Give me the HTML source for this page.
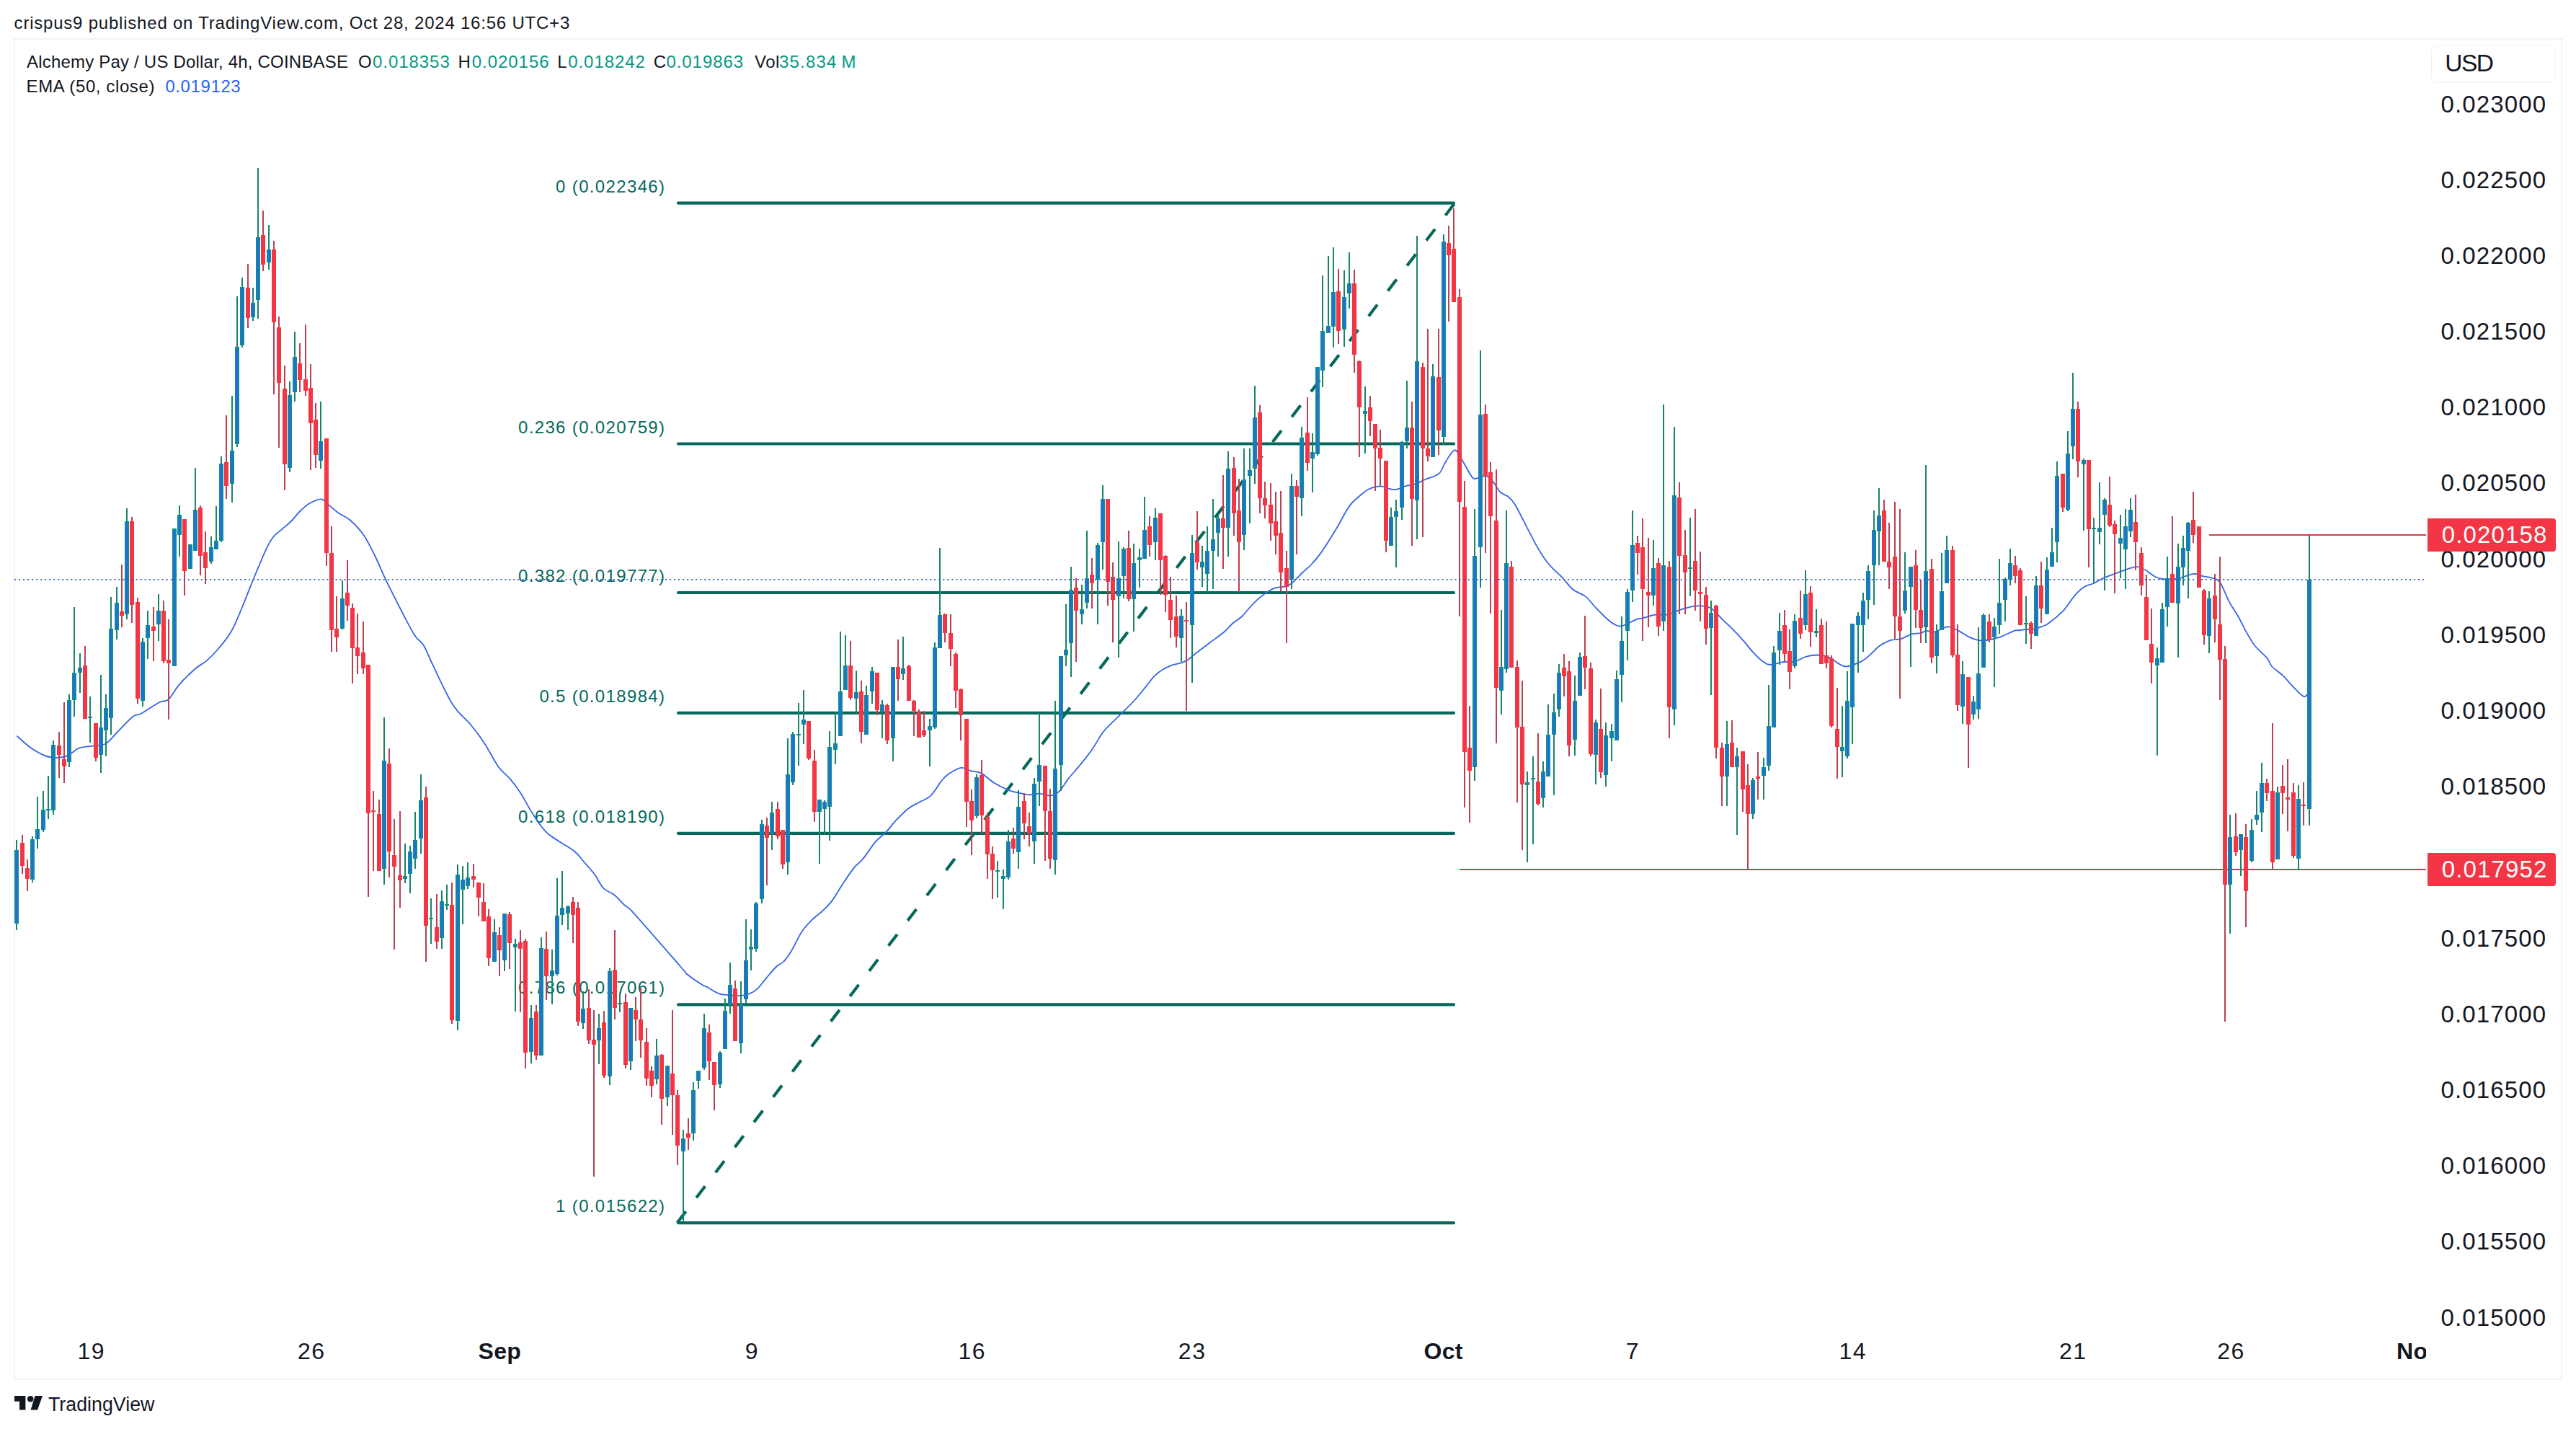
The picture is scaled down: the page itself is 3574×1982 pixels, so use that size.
<!DOCTYPE html>
<html><head><meta charset="utf-8"><title>chart</title>
<style>
html,body{margin:0;padding:0;background:#fff;}
body{width:3574px;height:1982px;position:relative;overflow:hidden;font-family:"Liberation Sans",sans-serif;color:#131722;}
.abs{position:absolute;white-space:nowrap;}
#hdr{left:19.6px;top:15.7px;font-size:24px;line-height:32px;letter-spacing:0.785px;}
#frame{left:19px;top:53px;width:3532px;height:1857px;border:2px solid #f1f2f5;box-sizing:content-box;}
#lg1{left:37px;top:70.2px;font-size:24px;line-height:32px;letter-spacing:0.5px;}
#lg2{left:36.6px;top:104.2px;font-size:24px;line-height:32px;letter-spacing:0.5px;}
.k{position:absolute;top:0;} .g{color:#089981} .k.g{letter-spacing:0.95px} .bl{color:#2962ff}
.pl{position:absolute;left:3383.3px;width:150px;text-align:right;font-size:33px;line-height:40px;letter-spacing:1.15px;white-space:nowrap;}
.tl{position:absolute;top:1854px;width:200px;text-align:center;font-size:32px;line-height:40px;letter-spacing:1.5px;text-indent:1.5px;white-space:nowrap;}
.tl.b{font-weight:bold;letter-spacing:0.3px;text-indent:0;}
#taxis{position:absolute;left:21px;top:0;width:3345px;height:1910px;overflow:hidden;}
.fl{position:absolute;right:2650.6px;font-size:24px;line-height:30px;color:#06685a;letter-spacing:1.35px;white-space:nowrap;}
#usd{left:3373px;top:62px;width:171px;height:50.5px;border:1.5px solid #f1f2f5;border-radius:8px;box-sizing:content-box;}
#usdt{left:3392.3px;top:65.5px;font-size:33.5px;line-height:44px;letter-spacing:-1.6px;}
.tag{position:absolute;left:3368px;width:178px;height:46px;background:#f23645;border-radius:0 4px 4px 0;color:#fff;font-size:33px;line-height:46px;letter-spacing:1.15px;}
.tag span{position:absolute;right:11.5px;}
#tv{left:67px;top:1931.6px;font-size:26.8px;line-height:32px;letter-spacing:0px;}
svg{position:absolute;left:0;top:0;}
</style></head><body>
<div id="hdr" class="abs">crispus9 published on TradingView.com, Oct 28, 2024 16:56 UTC+3</div>
<div id="frame" class="abs"></div>
<svg width="3574" height="1982" viewBox="0 0 3574 1982">
<defs><clipPath id="cp"><rect x="20" y="55" width="3346" height="1800"/></clipPath></defs>
<g clip-path="url(#cp)">
<g stroke="#06685a" stroke-width="4.2" stroke-linecap="round"><line x1="941" x2="2017" y1="281.6" y2="281.6"/><line x1="941" x2="2017" y1="615.5" y2="615.5"/><line x1="941" x2="2017" y1="822.0" y2="822.0"/><line x1="941" x2="2017" y1="988.9" y2="988.9"/><line x1="941" x2="2017" y1="1155.9" y2="1155.9"/><line x1="941" x2="2017" y1="1393.4" y2="1393.4"/><line x1="941" x2="2017" y1="1696.1" y2="1696.1"/>
<line x1="939.5" y1="1696.1" x2="2018.5" y2="281.6" stroke-dasharray="20 23.94" stroke-linecap="butt"/></g>
<line x1="2025" x2="3368" y1="1206.0" y2="1206.0" stroke="#cf3e51" stroke-width="2"/>
<line x1="3065" x2="3368" y1="741.9" y2="741.9" stroke="#cf3e51" stroke-width="2"/>
</g>
<g fill="#131722"><path d="M20 1936h15.4v19.4H27v-11.6H20z"/><circle cx="42.2" cy="1940.2" r="4.3"/><path d="M48.6 1936H59l-7 19.4H42.6z"/></g>
</svg>
<div class="fl" style="top:243.6px">0 (0.022346)</div><div class="fl" style="top:577.5px">0.236 (0.020759)</div><div class="fl" style="top:784.0px">0.382 (0.019777)</div><div class="fl" style="top:950.9px">0.5 (0.018984)</div><div class="fl" style="top:1117.9px">0.618 (0.018190)</div><div class="fl" style="top:1355.4px">0.786 (0.017061)</div><div class="fl" style="top:1658.1px">1 (0.015622)</div>
<svg width="3574" height="1982" viewBox="0 0 3574 1982">
<g clip-path="url(#cp)">
<path d="M23.4 1020.6C26.3 1023.2 35.5 1031.8 41.0 1036.0C46.5 1040.2 51.9 1043.2 56.6 1045.5C61.3 1047.8 63.8 1049.2 69.0 1050.0C74.2 1050.8 82.4 1051.0 87.6 1050.0C92.8 1049.0 96.4 1046.0 100.0 1044.0C103.6 1042.0 104.7 1039.3 109.4 1037.7C114.1 1036.1 121.8 1035.6 128.0 1034.6C134.2 1033.6 140.9 1034.6 146.6 1031.5C152.3 1028.4 156.0 1022.2 162.2 1016.0C168.4 1009.8 178.2 998.6 183.9 994.2C189.6 989.8 190.1 992.9 196.3 989.5C202.5 986.1 215.0 977.2 221.2 974.0C227.4 970.8 228.9 974.4 233.6 970.3C238.2 966.2 242.9 956.3 249.1 949.2C255.3 942.1 264.7 932.9 270.9 927.5C277.1 922.1 281.2 921.0 286.4 916.6C291.6 912.2 296.2 907.7 301.9 901.0C307.6 894.3 314.9 886.0 320.6 876.2C326.3 866.4 330.9 854.2 336.1 842.0C341.3 829.8 345.9 816.9 351.6 803.2C357.3 789.5 365.5 769.6 370.2 759.8C374.9 750.0 376.0 748.6 379.6 744.2C383.2 739.8 387.9 737.0 392.0 733.4C396.1 729.8 400.3 726.6 404.4 722.5C408.5 718.4 412.6 712.5 416.8 708.5C421.0 704.5 424.5 701.0 429.3 698.3C434.1 695.6 441.1 691.9 445.7 692.4C450.3 692.9 453.2 698.2 457.2 701.4C461.2 704.6 464.9 708.3 469.6 711.6C474.3 714.9 479.5 716.1 485.2 721.0C490.9 725.9 498.1 733.1 503.8 741.1C509.5 749.1 514.1 758.6 519.3 769.0C524.5 779.4 529.1 791.3 534.8 803.2C540.5 815.1 546.8 827.5 553.5 840.5C560.2 853.5 569.5 871.9 575.2 880.9C580.9 889.9 583.5 888.1 587.6 894.8C591.7 901.5 593.3 907.5 600.0 921.2C606.7 934.9 619.2 963.1 628.0 977.1C636.8 991.1 645.6 996.2 652.9 1005.0C660.1 1013.8 665.0 1020.2 671.5 1030.0C678.0 1039.8 685.7 1055.5 691.7 1063.8C697.7 1072.1 702.2 1073.9 707.3 1079.9C712.4 1085.9 716.9 1091.5 722.3 1099.9C727.7 1108.2 733.5 1120.5 739.8 1129.8C746.1 1139.2 750.6 1147.7 760.0 1156.1C769.4 1164.4 787.8 1173.5 796.1 1180.0C804.4 1186.5 805.0 1189.6 809.8 1195.0C814.6 1200.4 820.2 1206.3 824.8 1212.5C829.4 1218.6 832.7 1227.2 837.3 1232.0C841.9 1236.7 847.3 1237.2 852.3 1241.2C857.3 1245.2 862.6 1251.8 867.3 1256.2C871.9 1260.6 867.3 1253.5 880.0 1267.4C892.7 1281.4 931.2 1325.8 943.6 1340.0C956.1 1354.2 949.7 1348.1 954.9 1352.5C960.1 1356.9 970.7 1363.6 974.9 1366.2C979.1 1368.9 976.2 1366.5 980.0 1368.5C983.8 1370.5 992.2 1376.3 997.4 1378.2C1002.6 1380.2 1006.4 1379.6 1011.2 1380.1C1015.9 1380.6 1021.4 1381.4 1026.1 1381.1C1030.9 1380.8 1035.7 1379.9 1039.9 1378.2C1044.1 1376.6 1047.2 1374.8 1051.1 1371.1C1055.1 1367.4 1059.2 1361.2 1063.6 1356.1C1068.0 1351.0 1073.4 1344.3 1077.4 1340.5C1081.3 1336.8 1084.1 1337.0 1087.4 1333.5C1090.8 1330.1 1093.2 1326.7 1097.4 1319.8C1101.6 1312.9 1107.8 1299.4 1112.4 1292.3C1117.0 1285.2 1119.9 1282.3 1124.9 1277.3C1129.9 1272.3 1137.4 1267.1 1142.4 1262.3C1147.4 1257.6 1150.3 1254.9 1154.9 1248.6C1159.4 1242.4 1164.9 1232.4 1169.9 1224.9C1174.9 1217.4 1180.3 1209.3 1184.8 1203.6C1189.4 1198.0 1192.3 1197.2 1197.3 1191.2C1202.3 1185.1 1209.4 1173.7 1214.8 1167.4C1220.2 1161.2 1225.2 1158.5 1229.8 1153.7C1234.4 1148.9 1237.3 1144.0 1242.3 1138.7C1247.3 1133.4 1254.4 1126.0 1259.8 1121.7C1265.2 1117.4 1269.8 1115.8 1274.8 1113.0C1279.8 1110.2 1285.6 1108.3 1289.8 1104.9C1294.0 1101.4 1297.5 1095.7 1300.0 1092.4C1302.5 1089.1 1302.1 1087.9 1304.8 1084.8C1307.5 1081.7 1311.3 1076.9 1316.1 1073.6C1320.9 1070.3 1328.4 1065.6 1333.6 1064.9C1338.8 1064.2 1342.8 1068.1 1347.4 1069.4C1352.0 1070.6 1355.8 1069.6 1361.2 1072.4C1366.7 1075.2 1373.5 1082.2 1379.9 1086.2C1386.4 1090.1 1394.5 1093.9 1399.9 1096.1C1405.3 1098.4 1407.8 1098.4 1412.4 1099.4C1417.0 1100.4 1422.4 1102.2 1427.4 1102.4C1432.4 1102.6 1437.4 1100.4 1442.4 1100.6C1447.4 1100.9 1452.8 1104.2 1457.4 1103.6C1462.0 1103.1 1465.7 1101.4 1469.9 1097.4C1474.0 1093.4 1477.8 1085.7 1482.4 1079.9C1486.9 1074.1 1491.9 1069.1 1497.4 1062.4C1502.8 1055.8 1509.4 1047.6 1514.8 1039.9C1520.3 1032.2 1525.4 1022.2 1529.8 1016.2C1534.2 1010.2 1537.1 1008.2 1541.3 1003.8C1545.5 999.4 1549.9 995.5 1555.3 990.1C1560.7 984.7 1568.2 977.7 1573.9 971.5C1579.6 965.3 1584.7 958.6 1589.4 952.9C1594.1 947.2 1597.8 941.4 1601.9 937.3C1606.1 933.1 1610.2 930.5 1614.3 928.0C1618.4 925.5 1622.6 923.9 1626.7 922.4C1630.8 920.9 1635.5 920.5 1639.1 919.3C1642.7 918.1 1644.8 917.4 1648.4 915.0C1652.0 912.6 1655.7 908.8 1660.9 904.7C1666.1 900.7 1673.3 895.4 1679.5 890.7C1685.7 886.1 1692.9 881.2 1698.1 876.8C1703.3 872.4 1706.4 867.9 1710.6 864.3C1714.8 860.7 1718.9 858.9 1723.0 855.0C1727.1 851.1 1731.8 844.9 1735.4 841.0C1739.0 837.1 1741.1 834.9 1744.7 831.7C1748.3 828.5 1752.9 824.5 1757.1 821.8C1761.2 819.1 1764.9 816.8 1769.6 815.3C1774.3 813.8 1781.0 814.5 1785.1 813.1C1789.2 811.7 1790.8 810.0 1794.4 806.9C1798.0 803.8 1802.7 798.5 1806.8 794.5C1810.9 790.5 1815.1 787.4 1819.3 783.0C1823.5 778.6 1827.6 773.7 1831.7 768.1C1835.8 762.5 1840.0 755.9 1844.1 749.4C1848.2 742.9 1852.9 735.5 1856.5 729.3C1860.1 723.1 1862.7 717.4 1865.8 712.2C1868.9 707.0 1871.6 702.5 1875.2 698.2C1878.8 694.0 1883.5 690.1 1887.6 686.7C1891.7 683.3 1895.3 680.1 1900.0 678.0C1904.7 675.9 1910.8 674.3 1915.5 674.3C1920.2 674.3 1924.4 677.2 1928.0 678.0C1931.6 678.8 1933.7 679.5 1937.3 678.9C1940.9 678.3 1945.6 675.5 1949.7 674.3C1953.8 673.1 1957.4 673.3 1962.1 671.8C1966.8 670.2 1971.9 667.5 1977.6 665.0C1983.3 662.5 1991.6 660.9 1996.3 656.9C2001.0 652.9 2002.0 646.1 2005.6 640.7C2009.2 635.3 2014.4 625.1 2018.0 624.3C2021.6 623.5 2023.7 630.5 2027.3 636.1C2030.9 641.7 2036.7 653.1 2039.8 657.8C2042.9 662.4 2042.4 663.6 2046.0 664.0C2049.6 664.4 2057.4 659.5 2061.5 660.0C2065.6 660.5 2067.4 663.3 2070.8 667.1C2074.2 670.9 2078.1 679.1 2081.7 682.7C2085.3 686.3 2089.1 686.1 2092.5 688.9C2095.9 691.7 2097.8 693.0 2101.9 699.7C2106.1 706.4 2112.2 719.4 2117.4 729.3C2122.6 739.1 2127.7 750.0 2132.9 758.8C2138.1 767.6 2142.7 775.0 2148.4 782.0C2154.1 789.0 2161.4 794.7 2167.1 800.7C2172.8 806.7 2177.2 813.4 2182.6 817.8C2188.0 822.2 2194.7 823.2 2199.7 827.1C2204.7 831.0 2207.3 835.8 2212.3 841.0C2217.3 846.2 2224.8 854.1 2229.8 858.5C2234.8 862.9 2238.9 865.6 2242.3 867.2C2245.6 868.9 2247.0 868.8 2249.9 868.3C2252.8 867.8 2256.3 865.7 2259.9 864.2C2263.4 862.6 2267.8 859.9 2271.1 858.8C2274.5 857.6 2276.0 858.2 2280.0 857.2C2284.0 856.3 2289.1 853.7 2295.0 852.8C2300.8 852.0 2309.1 853.5 2314.9 852.3C2320.8 851.2 2324.9 847.8 2329.9 846.1C2334.9 844.3 2340.3 842.8 2344.9 841.8C2349.5 840.9 2352.8 840.2 2357.4 840.3C2362.0 840.5 2368.4 841.3 2372.4 842.8C2376.4 844.4 2378.2 847.1 2381.1 849.8C2384.1 852.6 2385.9 855.4 2389.9 859.3C2393.8 863.3 2399.9 868.5 2404.9 873.6C2409.9 878.7 2415.3 884.6 2419.9 889.8C2424.4 895.0 2427.8 900.0 2432.4 904.8C2436.9 909.6 2443.2 915.7 2447.3 918.5C2451.5 921.4 2452.8 921.9 2457.3 921.8C2461.9 921.7 2469.4 918.7 2474.8 918.0C2480.2 917.4 2484.8 919.0 2489.8 917.8C2494.8 916.6 2499.8 912.6 2504.8 911.0C2509.8 909.5 2515.0 908.7 2519.8 908.5C2524.6 908.4 2529.5 909.0 2533.6 910.2C2537.8 911.5 2542.0 914.4 2544.8 916.0C2547.5 917.7 2547.1 918.5 2550.0 919.9C2552.8 921.3 2556.5 924.9 2561.9 924.4C2567.3 924.0 2576.9 920.1 2582.5 917.4C2588.0 914.6 2590.8 911.4 2594.9 907.9C2599.1 904.3 2602.9 899.4 2607.4 896.1C2612.0 892.8 2617.4 889.8 2622.4 888.1C2627.4 886.5 2632.4 887.6 2637.4 886.1C2642.4 884.7 2647.8 880.7 2652.4 879.4C2657.0 878.1 2661.6 878.9 2664.9 878.1C2668.2 877.4 2669.1 875.2 2672.4 874.9C2675.7 874.6 2679.9 877.1 2684.9 876.1C2689.9 875.2 2697.0 869.6 2702.4 869.4C2707.8 869.2 2712.4 872.5 2717.4 874.9C2722.3 877.3 2727.6 881.4 2732.3 883.6C2737.1 885.8 2741.5 887.5 2746.1 888.1C2750.7 888.8 2755.0 888.1 2759.8 887.4C2764.6 886.6 2769.0 885.7 2774.8 883.6C2780.6 881.6 2790.6 876.4 2794.8 874.9C2799.0 873.4 2797.5 874.7 2800.0 874.4C2802.5 874.1 2807.3 873.4 2809.8 873.2C2812.3 872.9 2812.5 873.1 2815.0 872.9C2817.5 872.8 2822.3 872.9 2824.8 872.4C2827.3 871.9 2827.2 871.1 2830.0 869.9C2832.7 868.7 2835.8 869.1 2841.2 865.3C2846.7 861.5 2856.4 853.6 2862.5 847.2C2868.5 840.9 2872.7 832.8 2877.4 827.3C2882.2 821.8 2886.6 817.3 2891.2 814.3C2895.8 811.2 2900.1 811.2 2904.9 809.0C2909.7 806.8 2914.9 803.3 2919.9 801.0C2924.9 798.8 2929.9 797.4 2934.9 795.5C2939.9 793.7 2945.7 791.2 2949.9 789.8C2954.1 788.3 2957.0 787.3 2959.9 786.8C2962.8 786.2 2964.5 785.8 2967.4 786.5C2970.3 787.2 2973.6 788.8 2977.4 791.0C2981.1 793.2 2986.1 797.8 2989.9 799.8C2993.6 801.8 2996.1 802.4 2999.9 803.0C3003.6 803.6 3008.2 803.7 3012.3 803.5C3016.5 803.3 3020.7 802.8 3024.8 801.8C3029.0 800.7 3033.8 798.2 3037.3 797.3C3040.9 796.3 3042.7 795.7 3046.1 796.0C3049.4 796.4 3053.4 798.3 3057.3 799.3C3061.3 800.2 3066.0 800.3 3069.8 801.8C3073.6 803.2 3076.4 802.4 3080.3 807.9C3084.1 813.4 3088.8 827.2 3092.9 834.9C3097.0 842.6 3100.9 847.2 3104.9 854.2C3108.9 861.2 3112.9 870.1 3116.9 877.1C3120.9 884.1 3124.2 890.3 3129.0 896.3C3133.8 902.3 3142.0 908.6 3145.8 913.2C3149.6 917.8 3148.2 920.0 3151.8 924.0C3155.4 928.0 3162.5 932.4 3167.5 937.2C3172.5 942.0 3177.1 948.1 3181.9 952.9C3186.7 957.7 3192.9 964.9 3196.4 966.1C3199.9 967.3 3201.9 961.1 3203.0 960.1" fill="none" stroke="#3565e8" stroke-width="1.8" stroke-linejoin="round"/>
<g shape-rendering="crispEdges">
<path fill="#19846c" d="M22 1165h2V1290h-2zM44 1160h2V1224h-2zM51 1105h2V1177h-2zM59 1097h2V1154h-2zM66 1076h2V1136h-2zM73 1027h2V1130h-2zM95 963h2V1064h-2zM102 842h2V994h-2zM110 906h2V961h-2zM124 966h2V1030h-2zM139 936h2V1072h-2zM146 963h2V1049h-2zM153 828h2V1019h-2zM161 814h2V887h-2zM175 705h2V859h-2zM197 885h2V980h-2zM204 847h2V914h-2zM219 824h2V889h-2zM241 733h2V924h-2zM248 701h2V772h-2zM263 755h2V789h-2zM270 649h2V764h-2zM292 744h2V782h-2zM299 702h2V762h-2zM306 633h2V752h-2zM321 549h2V697h-2zM328 411h2V620h-2zM335 385h2V482h-2zM350 399h2V445h-2zM357 233h2V442h-2zM372 312h2V374h-2zM401 529h2V655h-2zM408 460h2V557h-2zM444 557h2V650h-2zM474 805h2V873h-2zM532 995h2V1227h-2zM561 1170h2V1225h-2zM568 1173h2V1239h-2zM575 1126h2V1205h-2zM583 1074h2V1184h-2zM597 1246h2V1309h-2zM612 1235h2V1316h-2zM619 1227h2V1262h-2zM634 1199h2V1429h-2zM641 1201h2V1282h-2zM648 1196h2V1233h-2zM685 1275h2V1334h-2zM699 1267h2V1347h-2zM714 1302h2V1403h-2zM736 1394h2V1475h-2zM750 1300h2V1464h-2zM765 1317h2V1393h-2zM772 1218h2V1353h-2zM779 1208h2V1283h-2zM787 1256h2V1290h-2zM808 1375h2V1427h-2zM830 1406h2V1476h-2zM845 1343h2V1505h-2zM859 1377h2V1404h-2zM874 1398h2V1484h-2zM910 1441h2V1504h-2zM925 1478h2V1534h-2zM947 1567h2V1695h-2zM961 1501h2V1582h-2zM968 1485h2V1510h-2zM976 1406h2V1484h-2zM998 1458h2V1509h-2zM1005 1385h2V1455h-2zM1012 1335h2V1406h-2zM1027 1361h2V1461h-2zM1034 1275h2V1391h-2zM1041 1289h2V1346h-2zM1048 1251h2V1320h-2zM1056 1137h2V1253h-2zM1070 1112h2V1179h-2zM1092 1024h2V1213h-2zM1099 1015h2V1089h-2zM1107 975h2V1062h-2zM1114 957h2V1032h-2zM1136 1109h2V1198h-2zM1143 1110h2V1157h-2zM1150 1014h2V1166h-2zM1158 987h2V1060h-2zM1165 876h2V1021h-2zM1172 881h2V957h-2zM1187 930h2V990h-2zM1201 951h2V1019h-2zM1209 925h2V976h-2zM1223 971h2V1024h-2zM1238 925h2V1056h-2zM1252 883h2V943h-2zM1289 997h2V1063h-2zM1296 891h2V1011h-2zM1303 760h2V899h-2zM1354 1074h2V1135h-2zM1383 1194h2V1245h-2zM1391 1206h2V1261h-2zM1398 1151h2V1220h-2zM1412 1096h2V1205h-2zM1434 1079h2V1198h-2zM1441 989h2V1118h-2zM1463 972h2V1213h-2zM1471 910h2V1097h-2zM1478 838h2V924h-2zM1485 786h2V939h-2zM1500 811h2V866h-2zM1507 736h2V844h-2zM1522 753h2V866h-2zM1529 673h2V790h-2zM1551 751h2V912h-2zM1558 759h2V830h-2zM1572 754h2V876h-2zM1580 761h2V815h-2zM1587 689h2V775h-2zM1602 705h2V777h-2zM1638 845h2V918h-2zM1653 742h2V947h-2zM1667 757h2V814h-2zM1674 730h2V822h-2zM1682 692h2V817h-2zM1689 714h2V772h-2zM1703 626h2V772h-2zM1725 622h2V763h-2zM1733 622h2V726h-2zM1740 535h2V671h-2zM1791 657h2V817h-2zM1805 592h2V716h-2zM1820 601h2V683h-2zM1827 509h2V632h-2zM1834 382h2V537h-2zM1842 355h2V462h-2zM1849 343h2V482h-2zM1864 375h2V481h-2zM1871 350h2V428h-2zM1893 536h2V629h-2zM1929 704h2V757h-2zM1936 693h2V787h-2zM1944 612h2V721h-2zM1951 528h2V622h-2zM1965 327h2V748h-2zM1987 505h2V634h-2zM2002 325h2V617h-2zM2045 706h2V1083h-2zM2053 486h2V815h-2zM2082 846h2V991h-2zM2089 708h2V933h-2zM2118 1070h2V1196h-2zM2126 1049h2V1171h-2zM2140 1056h2V1120h-2zM2147 977h2V1077h-2zM2155 962h2V1103h-2zM2162 921h2V994h-2zM2184 937h2V1048h-2zM2191 905h2V965h-2zM2213 998h2V1088h-2zM2227 1002h2V1091h-2zM2235 1004h2V1056h-2zM2242 930h2V1027h-2zM2249 855h2V974h-2zM2257 817h2V916h-2zM2264 708h2V835h-2zM2293 749h2V840h-2zM2307 561h2V875h-2zM2322 592h2V1006h-2zM2344 718h2V827h-2zM2373 833h2V964h-2zM2395 1000h2V1118h-2zM2409 1037h2V1158h-2zM2431 1079h2V1136h-2zM2446 1051h2V1109h-2zM2453 950h2V1069h-2zM2460 896h2V1009h-2zM2468 850h2V922h-2zM2489 852h2V927h-2zM2504 791h2V874h-2zM2519 845h2V884h-2zM2555 979h2V1078h-2zM2562 931h2V1052h-2zM2569 865h2V1032h-2zM2577 849h2V933h-2zM2584 822h2V904h-2zM2591 784h2V859h-2zM2599 708h2V839h-2zM2606 677h2V784h-2zM2642 766h2V851h-2zM2650 786h2V925h-2zM2671 645h2V892h-2zM2686 866h2V934h-2zM2693 767h2V874h-2zM2700 743h2V809h-2zM2722 917h2V1004h-2zM2737 965h2V998h-2zM2744 870h2V997h-2zM2751 851h2V926h-2zM2766 857h2V953h-2zM2773 775h2V879h-2zM2781 801h2V862h-2zM2788 761h2V812h-2zM2810 827h2V893h-2zM2824 799h2V882h-2zM2839 773h2V852h-2zM2846 732h2V786h-2zM2853 640h2V780h-2zM2868 598h2V709h-2zM2875 517h2V637h-2zM2890 636h2V736h-2zM2904 718h2V810h-2zM2912 669h2V755h-2zM2919 691h2V819h-2zM2941 714h2V802h-2zM2948 706h2V817h-2zM2955 691h2V745h-2zM2992 898h2V1048h-2zM2999 836h2V919h-2zM3006 772h2V869h-2zM3021 754h2V912h-2zM3028 743h2V812h-2zM3035 724h2V830h-2zM3064 820h2V906h-2zM3093 1130h2V1295h-2zM3108 1157h2V1215h-2zM3123 1136h2V1196h-2zM3130 1097h2V1144h-2zM3137 1058h2V1154h-2zM3159 1091h2V1192h-2zM3188 1089h2V1207h-2zM3203 742h2V1145h-2z"/><path fill="#bb4152" d="M30 1158h2V1212h-2zM37 1192h2V1236h-2zM81 1015h2V1079h-2zM88 974h2V1086h-2zM117 896h2V997h-2zM132 1003h2V1056h-2zM168 783h2V870h-2zM182 717h2V864h-2zM190 829h2V976h-2zM212 842h2V917h-2zM226 833h2V920h-2zM233 859h2V998h-2zM255 720h2V826h-2zM277 701h2V798h-2zM284 737h2V810h-2zM313 576h2V692h-2zM343 366h2V455h-2zM364 292h2V376h-2zM379 334h2V547h-2zM386 439h2V621h-2zM394 507h2V680h-2zM415 476h2V544h-2zM423 450h2V549h-2zM430 505h2V652h-2zM437 559h2V649h-2zM452 608h2V785h-2zM459 730h2V904h-2zM466 827h2V904h-2zM481 777h2V861h-2zM488 837h2V948h-2zM495 851h2V935h-2zM503 862h2V935h-2zM510 922h2V1244h-2zM517 1097h2V1208h-2zM525 1109h2V1208h-2zM539 1038h2V1217h-2zM546 1136h2V1317h-2zM554 1125h2V1259h-2zM590 1091h2V1334h-2zM605 1240h2V1316h-2zM626 1224h2V1420h-2zM656 1198h2V1231h-2zM663 1224h2V1271h-2zM670 1225h2V1278h-2zM677 1261h2V1340h-2zM692 1286h2V1354h-2zM706 1265h2V1344h-2zM721 1290h2V1404h-2zM728 1302h2V1482h-2zM743 1394h2V1470h-2zM757 1292h2V1387h-2zM794 1244h2V1308h-2zM801 1251h2V1423h-2zM816 1372h2V1448h-2zM823 1401h2V1632h-2zM837 1402h2V1495h-2zM852 1290h2V1414h-2zM867 1378h2V1482h-2zM881 1383h2V1444h-2zM888 1370h2V1467h-2zM896 1426h2V1506h-2zM903 1479h2V1522h-2zM917 1462h2V1560h-2zM932 1401h2V1574h-2zM939 1512h2V1616h-2zM954 1551h2V1595h-2zM983 1421h2V1498h-2zM990 1473h2V1540h-2zM1019 1360h2V1444h-2zM1063 1134h2V1228h-2zM1078 1112h2V1164h-2zM1085 1151h2V1205h-2zM1121 1000h2V1054h-2zM1129 1040h2V1140h-2zM1179 889h2V971h-2zM1194 944h2V1031h-2zM1216 933h2V992h-2zM1230 976h2V1032h-2zM1245 887h2V972h-2zM1260 922h2V972h-2zM1267 971h2V1021h-2zM1274 984h2V1023h-2zM1281 986h2V1022h-2zM1310 851h2V891h-2zM1318 852h2V924h-2zM1325 905h2V982h-2zM1332 955h2V1027h-2zM1340 997h2V1147h-2zM1347 1095h2V1186h-2zM1361 1054h2V1156h-2zM1369 1127h2V1219h-2zM1376 1174h2V1247h-2zM1405 1148h2V1184h-2zM1420 1100h2V1164h-2zM1427 1127h2V1174h-2zM1449 1062h2V1194h-2zM1456 1094h2V1205h-2zM1492 802h2V918h-2zM1514 774h2V844h-2zM1536 692h2V840h-2zM1543 780h2V891h-2zM1565 736h2V834h-2zM1594 716h2V772h-2zM1609 712h2V825h-2zM1616 770h2V849h-2zM1623 800h2V885h-2zM1631 826h2V898h-2zM1645 835h2V986h-2zM1660 709h2V790h-2zM1696 659h2V789h-2zM1711 634h2V743h-2zM1718 664h2V821h-2zM1747 562h2V712h-2zM1754 668h2V719h-2zM1762 670h2V750h-2zM1769 682h2V769h-2zM1776 681h2V820h-2zM1784 764h2V892h-2zM1798 666h2V769h-2zM1813 551h2V653h-2zM1856 373h2V477h-2zM1878 374h2V517h-2zM1885 500h2V634h-2zM1900 549h2V605h-2zM1907 588h2V681h-2zM1914 596h2V674h-2zM1922 639h2V766h-2zM1958 557h2V757h-2zM1973 503h2V745h-2zM1980 456h2V640h-2zM1995 456h2V631h-2zM2009 313h2V446h-2zM2016 289h2V419h-2zM2024 401h2V855h-2zM2031 667h2V1120h-2zM2038 979h2V1141h-2zM2060 561h2V767h-2zM2067 641h2V851h-2zM2075 651h2V1031h-2zM2096 778h2V926h-2zM2104 916h2V1113h-2zM2111 944h2V1179h-2zM2133 1017h2V1117h-2zM2169 907h2V966h-2zM2176 917h2V1049h-2zM2198 854h2V956h-2zM2206 919h2V1049h-2zM2220 955h2V1079h-2zM2271 743h2V797h-2zM2278 719h2V889h-2zM2286 746h2V870h-2zM2300 774h2V882h-2zM2315 778h2V1024h-2zM2329 669h2V852h-2zM2337 735h2V852h-2zM2351 706h2V847h-2zM2358 765h2V862h-2zM2366 814h2V894h-2zM2380 839h2V1052h-2zM2388 1030h2V1118h-2zM2402 999h2V1064h-2zM2417 1042h2V1126h-2zM2424 1060h2V1206h-2zM2438 1043h2V1109h-2zM2475 846h2V917h-2zM2482 873h2V956h-2zM2497 819h2V886h-2zM2511 813h2V897h-2zM2526 858h2V921h-2zM2533 862h2V927h-2zM2540 909h2V1009h-2zM2548 954h2V1080h-2zM2613 693h2V779h-2zM2620 725h2V817h-2zM2628 696h2V886h-2zM2635 706h2V969h-2zM2657 763h2V871h-2zM2664 804h2V892h-2zM2679 775h2V920h-2zM2708 757h2V912h-2zM2715 866h2V986h-2zM2730 939h2V1065h-2zM2759 852h2V891h-2zM2795 771h2V809h-2zM2802 788h2V867h-2zM2817 862h2V900h-2zM2831 779h2V864h-2zM2861 657h2V710h-2zM2882 557h2V662h-2zM2897 638h2V787h-2zM2926 661h2V731h-2zM2933 722h2V823h-2zM2962 686h2V791h-2zM2970 759h2V826h-2zM2977 797h2V888h-2zM2984 844h2V948h-2zM3013 716h2V836h-2zM3042 682h2V753h-2zM3050 730h2V815h-2zM3057 817h2V894h-2zM3072 796h2V891h-2zM3079 772h2V971h-2zM3086 896h2V1417h-2zM3101 1128h2V1187h-2zM3115 1143h2V1286h-2zM3144 1080h2V1111h-2zM3152 1003h2V1206h-2zM3166 1061h2V1129h-2zM3173 1053h2V1153h-2zM3181 1086h2V1190h-2zM3195 1085h2V1145h-2z"/><path fill="#0e8f87" d="M20 1179h6V1281h-6zM42 1164h6V1220h-6zM49 1150h6V1164h-6zM57 1123h6V1151h-6zM64 1122h6V1124h-6zM71 1033h6V1124h-6zM93 971h6V1057h-6zM100 933h6V971h-6zM108 926h6V933h-6zM122 994h6V996h-6zM137 1009h6V1047h-6zM144 982h6V1013h-6zM151 872h6V996h-6zM159 836h6V874h-6zM173 723h6V852h-6zM195 890h6V972h-6zM202 867h6V885h-6zM217 847h6V866h-6zM239 733h6V924h-6zM246 714h6V742h-6zM261 755h6V789h-6zM268 707h6V764h-6zM290 759h6V779h-6zM297 750h6V762h-6zM304 643h6V750h-6zM319 625h6V671h-6zM326 481h6V616h-6zM333 398h6V479h-6zM348 420h6V440h-6zM355 329h6V416h-6zM370 346h6V364h-6zM399 548h6V649h-6zM406 495h6V544h-6zM442 612h6V639h-6zM472 830h6V872h-6zM530 1055h6V1205h-6zM559 1215h6V1219h-6zM566 1181h6V1212h-6zM573 1165h6V1191h-6zM581 1110h6V1163h-6zM595 1273h6V1275h-6zM610 1250h6V1301h-6zM617 1254h6V1256h-6zM632 1213h6V1416h-6zM639 1220h6V1234h-6zM646 1217h6V1229h-6zM683 1293h6V1334h-6zM697 1267h6V1332h-6zM712 1309h6V1314h-6zM734 1412h6V1459h-6zM748 1315h6V1464h-6zM763 1346h6V1354h-6zM770 1270h6V1351h-6zM777 1259h6V1269h-6zM785 1257h6V1267h-6zM806 1399h6V1419h-6zM828 1426h6V1443h-6zM843 1347h6V1493h-6zM857 1391h6V1393h-6zM872 1398h6V1472h-6zM908 1464h6V1497h-6zM923 1478h6V1522h-6zM945 1579h6V1597h-6zM959 1512h6V1572h-6zM966 1485h6V1499h-6zM974 1426h6V1481h-6zM996 1460h6V1504h-6zM1003 1402h6V1455h-6zM1010 1366h6V1394h-6zM1025 1393h6V1447h-6zM1032 1332h6V1386h-6zM1039 1313h6V1317h-6zM1046 1253h6V1316h-6zM1054 1143h6V1247h-6zM1068 1127h6V1157h-6zM1090 1074h6V1196h-6zM1097 1018h6V1085h-6zM1105 1018h6V1020h-6zM1112 998h6V1005h-6zM1134 1109h6V1126h-6zM1141 1112h6V1122h-6zM1148 1036h6V1119h-6zM1156 1031h6V1040h-6zM1163 959h6V1021h-6zM1170 923h6V957h-6zM1185 960h6V969h-6zM1199 964h6V1019h-6zM1207 931h6V959h-6zM1221 977h6V987h-6zM1236 925h6V1024h-6zM1250 927h6V935h-6zM1287 1007h6V1013h-6zM1294 898h6V1009h-6zM1301 853h6V899h-6zM1352 1078h6V1132h-6zM1381 1207h6V1209h-6zM1389 1215h6V1219h-6zM1396 1167h6V1217h-6zM1410 1119h6V1182h-6zM1432 1087h6V1167h-6zM1439 1061h6V1084h-6zM1461 1066h6V1193h-6zM1469 910h6V1061h-6zM1476 901h6V909h-6zM1483 818h6V892h-6zM1498 845h6V852h-6zM1505 802h6V836h-6zM1520 756h6V804h-6zM1527 692h6V752h-6zM1549 802h6V827h-6zM1556 761h6V799h-6zM1570 781h6V831h-6zM1578 773h6V777h-6zM1585 735h6V775h-6zM1600 718h6V752h-6zM1636 854h6V885h-6zM1651 767h6V867h-6zM1665 779h6V787h-6zM1672 764h6V796h-6zM1680 748h6V764h-6zM1687 719h6V739h-6zM1701 650h6V732h-6zM1723 665h6V742h-6zM1731 652h6V660h-6zM1738 579h6V650h-6zM1789 674h6V804h-6zM1803 607h6V691h-6zM1818 627h6V636h-6zM1825 509h6V630h-6zM1832 459h6V514h-6zM1840 452h6V462h-6zM1847 405h6V453h-6zM1862 412h6V457h-6zM1869 393h6V407h-6zM1891 570h6V574h-6zM1927 717h6V757h-6zM1934 709h6V717h-6zM1942 613h6V704h-6zM1949 593h6V612h-6zM1963 501h6V694h-6zM1985 522h6V634h-6zM2000 335h6V606h-6zM2043 771h6V1064h-6zM2051 575h6V759h-6zM2080 925h6V958h-6zM2087 781h6V928h-6zM2116 1085h6V1089h-6zM2124 1079h6V1081h-6zM2138 1070h6V1107h-6zM2145 1019h6V1077h-6zM2153 988h6V1019h-6zM2160 933h6V984h-6zM2182 972h6V1026h-6zM2189 911h6V965h-6zM2211 1002h6V1047h-6zM2225 1020h6V1075h-6zM2233 1014h6V1024h-6zM2240 942h6V1027h-6zM2247 889h6V936h-6zM2255 821h6V875h-6zM2262 756h6V819h-6zM2291 788h6V826h-6zM2305 784h6V862h-6zM2320 687h6V984h-6zM2342 787h6V789h-6zM2371 850h6V871h-6zM2393 1032h6V1077h-6zM2407 1049h6V1064h-6zM2429 1082h6V1129h-6zM2444 1064h6V1076h-6zM2451 1007h6V1062h-6zM2458 905h6V1009h-6zM2466 875h6V902h-6zM2487 861h6V924h-6zM2502 824h6V867h-6zM2517 875h6V878h-6zM2553 1036h6V1042h-6zM2560 972h6V1049h-6zM2567 865h6V981h-6zM2575 854h6V867h-6zM2582 833h6V867h-6zM2589 792h6V832h-6zM2597 735h6V784h-6zM2604 715h6V737h-6zM2640 819h6V847h-6zM2648 786h6V814h-6zM2669 792h6V870h-6zM2684 875h6V910h-6zM2691 820h6V874h-6zM2698 763h6V809h-6zM2720 935h6V980h-6zM2735 973h6V991h-6zM2742 934h6V984h-6zM2749 853h6V926h-6zM2764 869h6V884h-6zM2771 836h6V867h-6zM2779 803h6V832h-6zM2786 781h6V804h-6zM2808 864h6V866h-6zM2822 812h6V882h-6zM2837 790h6V852h-6zM2844 766h6V786h-6zM2851 660h6V752h-6zM2866 629h6V707h-6zM2873 567h6V619h-6zM2888 638h6V644h-6zM2902 732h6V734h-6zM2910 732h6V738h-6zM2917 693h6V714h-6zM2939 746h6V754h-6zM2946 730h6V762h-6zM2953 707h6V737h-6zM2990 913h6V923h-6zM2997 845h6V919h-6zM3004 802h6V842h-6zM3019 786h6V837h-6zM3026 760h6V787h-6zM3033 725h6V764h-6zM3062 830h6V882h-6zM3091 1161h6V1227h-6zM3106 1157h6V1179h-6zM3121 1151h6V1194h-6zM3128 1130h6V1137h-6zM3135 1086h6V1127h-6zM3157 1099h6V1192h-6zM3186 1108h6V1191h-6zM3201 804h6V1122h-6z"/><path fill="#1a80b6" d="M21 1180h4V1280h-4zM43 1165h4V1219h-4zM50 1151h4V1163h-4zM58 1124h4V1150h-4zM72 1034h4V1123h-4zM94 972h4V1056h-4zM101 934h4V970h-4zM109 927h4V932h-4zM138 1010h4V1046h-4zM145 983h4V1012h-4zM152 873h4V995h-4zM160 837h4V873h-4zM174 724h4V851h-4zM196 891h4V971h-4zM203 868h4V884h-4zM218 848h4V865h-4zM240 734h4V923h-4zM247 715h4V741h-4zM262 756h4V788h-4zM269 708h4V763h-4zM291 760h4V778h-4zM298 751h4V761h-4zM305 644h4V749h-4zM320 626h4V670h-4zM327 482h4V615h-4zM334 399h4V478h-4zM349 421h4V439h-4zM356 330h4V415h-4zM371 347h4V363h-4zM400 549h4V648h-4zM407 496h4V543h-4zM443 613h4V638h-4zM473 831h4V871h-4zM531 1056h4V1204h-4zM560 1216h4V1218h-4zM567 1182h4V1211h-4zM574 1166h4V1190h-4zM582 1111h4V1162h-4zM611 1251h4V1300h-4zM633 1214h4V1415h-4zM640 1221h4V1233h-4zM647 1218h4V1228h-4zM684 1294h4V1333h-4zM698 1268h4V1331h-4zM713 1310h4V1313h-4zM735 1413h4V1458h-4zM749 1316h4V1463h-4zM764 1347h4V1353h-4zM771 1271h4V1350h-4zM778 1260h4V1268h-4zM786 1258h4V1266h-4zM807 1400h4V1418h-4zM829 1427h4V1442h-4zM844 1348h4V1492h-4zM873 1399h4V1471h-4zM909 1465h4V1496h-4zM924 1479h4V1521h-4zM946 1580h4V1596h-4zM960 1513h4V1571h-4zM967 1486h4V1498h-4zM975 1427h4V1480h-4zM997 1461h4V1503h-4zM1004 1403h4V1454h-4zM1011 1367h4V1393h-4zM1026 1394h4V1446h-4zM1033 1333h4V1385h-4zM1040 1314h4V1316h-4zM1047 1254h4V1315h-4zM1055 1144h4V1246h-4zM1069 1128h4V1156h-4zM1091 1075h4V1195h-4zM1098 1019h4V1084h-4zM1113 999h4V1004h-4zM1135 1110h4V1125h-4zM1142 1113h4V1121h-4zM1149 1037h4V1118h-4zM1157 1032h4V1039h-4zM1164 960h4V1020h-4zM1171 924h4V956h-4zM1186 961h4V968h-4zM1200 965h4V1018h-4zM1208 932h4V958h-4zM1222 978h4V986h-4zM1237 926h4V1023h-4zM1251 928h4V934h-4zM1288 1008h4V1012h-4zM1295 899h4V1008h-4zM1302 854h4V898h-4zM1353 1079h4V1131h-4zM1390 1216h4V1218h-4zM1397 1168h4V1216h-4zM1411 1120h4V1181h-4zM1433 1088h4V1166h-4zM1440 1062h4V1083h-4zM1462 1067h4V1192h-4zM1470 911h4V1060h-4zM1477 902h4V908h-4zM1484 819h4V891h-4zM1499 846h4V851h-4zM1506 803h4V835h-4zM1521 757h4V803h-4zM1528 693h4V751h-4zM1550 803h4V826h-4zM1557 762h4V798h-4zM1571 782h4V830h-4zM1579 774h4V776h-4zM1586 736h4V774h-4zM1601 719h4V751h-4zM1637 855h4V884h-4zM1652 768h4V866h-4zM1666 780h4V786h-4zM1673 765h4V795h-4zM1681 749h4V763h-4zM1688 720h4V738h-4zM1702 651h4V731h-4zM1724 666h4V741h-4zM1732 653h4V659h-4zM1739 580h4V649h-4zM1790 675h4V803h-4zM1804 608h4V690h-4zM1819 628h4V635h-4zM1826 510h4V629h-4zM1833 460h4V513h-4zM1841 453h4V461h-4zM1848 406h4V452h-4zM1863 413h4V456h-4zM1870 394h4V406h-4zM1892 571h4V573h-4zM1928 718h4V756h-4zM1935 710h4V716h-4zM1943 614h4V703h-4zM1950 594h4V611h-4zM1964 502h4V693h-4zM1986 523h4V633h-4zM2001 336h4V605h-4zM2044 772h4V1063h-4zM2052 576h4V758h-4zM2081 926h4V957h-4zM2088 782h4V927h-4zM2117 1086h4V1088h-4zM2139 1071h4V1106h-4zM2146 1020h4V1076h-4zM2154 989h4V1018h-4zM2161 934h4V983h-4zM2183 973h4V1025h-4zM2190 912h4V964h-4zM2212 1003h4V1046h-4zM2226 1021h4V1074h-4zM2234 1015h4V1023h-4zM2241 943h4V1026h-4zM2248 890h4V935h-4zM2256 822h4V874h-4zM2263 757h4V818h-4zM2292 789h4V825h-4zM2306 785h4V861h-4zM2321 688h4V983h-4zM2372 851h4V870h-4zM2394 1033h4V1076h-4zM2408 1050h4V1063h-4zM2430 1083h4V1128h-4zM2445 1065h4V1075h-4zM2452 1008h4V1061h-4zM2459 906h4V1008h-4zM2467 876h4V901h-4zM2488 862h4V923h-4zM2503 825h4V866h-4zM2554 1037h4V1041h-4zM2561 973h4V1048h-4zM2568 866h4V980h-4zM2576 855h4V866h-4zM2583 834h4V866h-4zM2590 793h4V831h-4zM2598 736h4V783h-4zM2605 716h4V736h-4zM2641 820h4V846h-4zM2649 787h4V813h-4zM2670 793h4V869h-4zM2685 876h4V909h-4zM2692 821h4V873h-4zM2699 764h4V808h-4zM2721 936h4V979h-4zM2736 974h4V990h-4zM2743 935h4V983h-4zM2750 854h4V925h-4zM2765 870h4V883h-4zM2772 837h4V866h-4zM2780 804h4V831h-4zM2787 782h4V803h-4zM2823 813h4V881h-4zM2838 791h4V851h-4zM2845 767h4V785h-4zM2852 661h4V751h-4zM2867 630h4V706h-4zM2874 568h4V618h-4zM2889 639h4V643h-4zM2911 733h4V737h-4zM2918 694h4V713h-4zM2940 747h4V753h-4zM2947 731h4V761h-4zM2954 708h4V736h-4zM2991 914h4V922h-4zM2998 846h4V918h-4zM3005 803h4V841h-4zM3020 787h4V836h-4zM3027 761h4V786h-4zM3034 726h4V763h-4zM3063 831h4V881h-4zM3092 1162h4V1226h-4zM3107 1158h4V1178h-4zM3122 1152h4V1193h-4zM3129 1131h4V1136h-4zM3136 1087h4V1126h-4zM3158 1100h4V1191h-4zM3187 1109h4V1190h-4zM3202 805h4V1121h-4z"/><path fill="#1f6dd6" d="M22 1181h2V1279h-2zM44 1166h2V1218h-2zM51 1152h2V1162h-2zM59 1125h2V1149h-2zM73 1035h2V1122h-2zM95 973h2V1055h-2zM102 935h2V969h-2zM110 928h2V931h-2zM139 1011h2V1045h-2zM146 984h2V1011h-2zM153 874h2V994h-2zM161 838h2V872h-2zM175 725h2V850h-2zM197 892h2V970h-2zM204 869h2V883h-2zM219 849h2V864h-2zM241 735h2V922h-2zM248 716h2V740h-2zM263 757h2V787h-2zM270 709h2V762h-2zM292 761h2V777h-2zM299 752h2V760h-2zM306 645h2V748h-2zM321 627h2V669h-2zM328 483h2V614h-2zM335 400h2V477h-2zM350 422h2V438h-2zM357 331h2V414h-2zM372 348h2V362h-2zM401 550h2V647h-2zM408 497h2V542h-2zM444 614h2V637h-2zM474 832h2V870h-2zM532 1057h2V1203h-2zM568 1183h2V1210h-2zM575 1167h2V1189h-2zM583 1112h2V1161h-2zM612 1252h2V1299h-2zM634 1215h2V1414h-2zM641 1222h2V1232h-2zM648 1219h2V1227h-2zM685 1295h2V1332h-2zM699 1269h2V1330h-2zM714 1311h2V1312h-2zM736 1414h2V1457h-2zM750 1317h2V1462h-2zM765 1348h2V1352h-2zM772 1272h2V1349h-2zM779 1261h2V1267h-2zM787 1259h2V1265h-2zM808 1401h2V1417h-2zM830 1428h2V1441h-2zM845 1349h2V1491h-2zM874 1400h2V1470h-2zM910 1466h2V1495h-2zM925 1480h2V1520h-2zM947 1581h2V1595h-2zM961 1514h2V1570h-2zM968 1487h2V1497h-2zM976 1428h2V1479h-2zM998 1462h2V1502h-2zM1005 1404h2V1453h-2zM1012 1368h2V1392h-2zM1027 1395h2V1445h-2zM1034 1334h2V1384h-2zM1048 1255h2V1314h-2zM1056 1145h2V1245h-2zM1070 1129h2V1155h-2zM1092 1076h2V1194h-2zM1099 1020h2V1083h-2zM1114 1000h2V1003h-2zM1136 1111h2V1124h-2zM1143 1114h2V1120h-2zM1150 1038h2V1117h-2zM1158 1033h2V1038h-2zM1165 961h2V1019h-2zM1172 925h2V955h-2zM1187 962h2V967h-2zM1201 966h2V1017h-2zM1209 933h2V957h-2zM1223 979h2V985h-2zM1238 927h2V1022h-2zM1252 929h2V933h-2zM1289 1009h2V1011h-2zM1296 900h2V1007h-2zM1303 855h2V897h-2zM1354 1080h2V1130h-2zM1398 1169h2V1215h-2zM1412 1121h2V1180h-2zM1434 1089h2V1165h-2zM1441 1063h2V1082h-2zM1463 1068h2V1191h-2zM1471 912h2V1059h-2zM1478 903h2V907h-2zM1485 820h2V890h-2zM1500 847h2V850h-2zM1507 804h2V834h-2zM1522 758h2V802h-2zM1529 694h2V750h-2zM1551 804h2V825h-2zM1558 763h2V797h-2zM1572 783h2V829h-2zM1587 737h2V773h-2zM1602 720h2V750h-2zM1638 856h2V883h-2zM1653 769h2V865h-2zM1667 781h2V785h-2zM1674 766h2V794h-2zM1682 750h2V762h-2zM1689 721h2V737h-2zM1703 652h2V730h-2zM1725 667h2V740h-2zM1733 654h2V658h-2zM1740 581h2V648h-2zM1791 676h2V802h-2zM1805 609h2V689h-2zM1820 629h2V634h-2zM1827 511h2V628h-2zM1834 461h2V512h-2zM1842 454h2V460h-2zM1849 407h2V451h-2zM1864 414h2V455h-2zM1871 395h2V405h-2zM1929 719h2V755h-2zM1936 711h2V715h-2zM1944 615h2V702h-2zM1951 595h2V610h-2zM1965 503h2V692h-2zM1987 524h2V632h-2zM2002 337h2V604h-2zM2045 773h2V1062h-2zM2053 577h2V757h-2zM2082 927h2V956h-2zM2089 783h2V926h-2zM2140 1072h2V1105h-2zM2147 1021h2V1075h-2zM2155 990h2V1017h-2zM2162 935h2V982h-2zM2184 974h2V1024h-2zM2191 913h2V963h-2zM2213 1004h2V1045h-2zM2227 1022h2V1073h-2zM2235 1016h2V1022h-2zM2242 944h2V1025h-2zM2249 891h2V934h-2zM2257 823h2V873h-2zM2264 758h2V817h-2zM2293 790h2V824h-2zM2307 786h2V860h-2zM2322 689h2V982h-2zM2373 852h2V869h-2zM2395 1034h2V1075h-2zM2409 1051h2V1062h-2zM2431 1084h2V1127h-2zM2446 1066h2V1074h-2zM2453 1009h2V1060h-2zM2460 907h2V1007h-2zM2468 877h2V900h-2zM2489 863h2V922h-2zM2504 826h2V865h-2zM2555 1038h2V1040h-2zM2562 974h2V1047h-2zM2569 867h2V979h-2zM2577 856h2V865h-2zM2584 835h2V865h-2zM2591 794h2V830h-2zM2599 737h2V782h-2zM2606 717h2V735h-2zM2642 821h2V845h-2zM2650 788h2V812h-2zM2671 794h2V868h-2zM2686 877h2V908h-2zM2693 822h2V872h-2zM2700 765h2V807h-2zM2722 937h2V978h-2zM2737 975h2V989h-2zM2744 936h2V982h-2zM2751 855h2V924h-2zM2766 871h2V882h-2zM2773 838h2V865h-2zM2781 805h2V830h-2zM2788 783h2V802h-2zM2824 814h2V880h-2zM2839 792h2V850h-2zM2846 768h2V784h-2zM2853 662h2V750h-2zM2868 631h2V705h-2zM2875 569h2V617h-2zM2890 640h2V642h-2zM2912 734h2V736h-2zM2919 695h2V712h-2zM2941 748h2V752h-2zM2948 732h2V760h-2zM2955 709h2V735h-2zM2992 915h2V921h-2zM2999 847h2V917h-2zM3006 804h2V840h-2zM3021 788h2V835h-2zM3028 762h2V785h-2zM3035 727h2V762h-2zM3064 832h2V880h-2zM3093 1163h2V1225h-2zM3108 1159h2V1177h-2zM3123 1153h2V1192h-2zM3130 1132h2V1135h-2zM3137 1088h2V1125h-2zM3159 1101h2V1190h-2zM3188 1110h2V1189h-2zM3203 806h2V1120h-2z"/><path fill="#f23645" d="M28 1169h6V1201h-6zM35 1204h6V1219h-6zM79 1034h6V1047h-6zM86 1053h6V1063h-6zM115 923h6V997h-6zM130 1003h6V1051h-6zM166 848h6V854h-6zM180 723h6V839h-6zM188 835h6V969h-6zM210 869h6V875h-6zM224 847h6V917h-6zM231 915h6V920h-6zM253 720h6V792h-6zM275 704h6V771h-6zM282 766h6V788h-6zM311 641h6V674h-6zM341 399h6V441h-6zM362 326h6V367h-6zM377 346h6V447h-6zM384 454h6V531h-6zM392 539h6V644h-6zM413 504h6V527h-6zM421 526h6V542h-6zM428 538h6V587h-6zM435 582h6V631h-6zM450 608h6V767h-6zM457 767h6V874h-6zM464 872h6V884h-6zM479 822h6V840h-6zM486 843h6V899h-6zM493 898h6V910h-6zM501 905h6V927h-6zM508 922h6V1128h-6zM515 1124h6V1126h-6zM523 1129h6V1208h-6zM537 1059h6V1181h-6zM544 1186h6V1202h-6zM552 1214h6V1221h-6zM588 1106h6V1284h-6zM603 1286h6V1306h-6zM624 1255h6V1415h-6zM654 1215h6V1220h-6zM661 1224h6V1245h-6zM668 1251h6V1278h-6zM675 1271h6V1329h-6zM690 1297h6V1318h-6zM704 1268h6V1308h-6zM719 1307h6V1316h-6zM726 1305h6V1460h-6zM741 1403h6V1464h-6zM755 1316h6V1354h-6zM792 1251h6V1269h-6zM799 1259h6V1417h-6zM814 1398h6V1443h-6zM821 1442h6V1449h-6zM835 1418h6V1492h-6zM850 1345h6V1398h-6zM865 1390h6V1477h-6zM879 1401h6V1414h-6zM886 1414h6V1443h-6zM894 1445h6V1496h-6zM901 1485h6V1506h-6zM915 1463h6V1524h-6zM930 1489h6V1519h-6zM937 1519h6V1589h-6zM952 1572h6V1578h-6zM981 1432h6V1472h-6zM988 1473h6V1505h-6zM1017 1371h6V1444h-6zM1061 1145h6V1162h-6zM1076 1122h6V1160h-6zM1083 1151h6V1199h-6zM1119 1000h6V1052h-6zM1127 1055h6V1126h-6zM1177 923h6V968h-6zM1192 959h6V1015h-6zM1214 933h6V985h-6zM1228 978h6V1027h-6zM1243 925h6V942h-6zM1258 924h6V972h-6zM1265 972h6V986h-6zM1272 988h6V1023h-6zM1279 1013h6V1020h-6zM1308 852h6V878h-6zM1316 878h6V900h-6zM1323 907h6V958h-6zM1330 956h6V992h-6zM1338 997h6V1112h-6zM1345 1111h6V1138h-6zM1359 1075h6V1131h-6zM1367 1133h6V1185h-6zM1374 1184h6V1207h-6zM1403 1163h6V1177h-6zM1418 1111h6V1142h-6zM1425 1146h6V1156h-6zM1447 1062h6V1125h-6zM1454 1125h6V1191h-6zM1490 815h6V847h-6zM1512 797h6V809h-6zM1534 692h6V807h-6zM1541 800h6V832h-6zM1563 760h6V831h-6zM1592 730h6V756h-6zM1607 712h6V777h-6zM1614 771h6V825h-6zM1621 832h6V860h-6zM1629 855h6V883h-6zM1643 860h6V862h-6zM1658 752h6V780h-6zM1694 719h6V732h-6zM1709 649h6V712h-6zM1716 708h6V752h-6zM1745 572h6V691h-6zM1752 691h6V701h-6zM1760 700h6V726h-6zM1767 723h6V743h-6zM1774 739h6V794h-6zM1782 788h6V814h-6zM1796 674h6V689h-6zM1811 600h6V642h-6zM1854 404h6V459h-6zM1876 393h6V492h-6zM1883 501h6V565h-6zM1898 565h6V584h-6zM1905 588h6V622h-6zM1912 621h6V636h-6zM1920 639h6V750h-6zM1956 593h6V692h-6zM1971 509h6V622h-6zM1978 622h6V633h-6zM1993 523h6V597h-6zM2007 337h6V354h-6zM2014 345h6V419h-6zM2022 412h6V696h-6zM2029 703h6V1043h-6zM2036 1037h6V1069h-6zM2058 574h6V660h-6zM2065 655h6V716h-6zM2073 722h6V954h-6zM2094 786h6V926h-6zM2102 925h6V1009h-6zM2109 1008h6V1088h-6zM2131 1084h6V1115h-6zM2167 926h6V938h-6zM2174 931h6V1034h-6zM2196 910h6V926h-6zM2204 927h6V1046h-6zM2218 1011h6V1071h-6zM2269 753h6V767h-6zM2276 759h6V817h-6zM2284 821h6V826h-6zM2298 781h6V869h-6zM2313 786h6V981h-6zM2327 690h6V771h-6zM2335 770h6V794h-6zM2349 778h6V819h-6zM2356 821h6V824h-6zM2364 825h6V872h-6zM2378 840h6V1037h-6zM2386 1037h6V1077h-6zM2400 1030h6V1064h-6zM2415 1042h6V1095h-6zM2422 1089h6V1129h-6zM2436 1077h6V1080h-6zM2473 867h6V907h-6zM2480 903h6V932h-6zM2495 857h6V879h-6zM2509 822h6V877h-6zM2524 867h6V921h-6zM2531 909h6V920h-6zM2538 913h6V1007h-6zM2546 1011h6V1036h-6zM2611 708h6V779h-6zM2618 779h6V787h-6zM2626 772h6V855h-6zM2633 855h6V875h-6zM2655 784h6V846h-6zM2662 846h6V871h-6zM2677 789h6V912h-6zM2706 763h6V909h-6zM2713 908h6V978h-6zM2728 939h6V1005h-6zM2757 862h6V887h-6zM2793 784h6V799h-6zM2800 791h6V867h-6zM2815 864h6V879h-6zM2829 812h6V844h-6zM2859 657h6V704h-6zM2880 567h6V640h-6zM2895 638h6V734h-6zM2924 700h6V729h-6zM2931 727h6V741h-6zM2960 724h6V752h-6zM2968 767h6V812h-6zM2975 828h6V888h-6zM2982 893h6V919h-6zM3011 796h6V836h-6zM3040 721h6V742h-6zM3048 730h6V815h-6zM3055 819h6V881h-6zM3070 826h6V859h-6zM3077 866h6V915h-6zM3084 914h6V1227h-6zM3099 1160h6V1182h-6zM3113 1161h6V1236h-6zM3142 1086h6V1100h-6zM3150 1097h6V1196h-6zM3164 1090h6V1100h-6zM3171 1106h6V1109h-6zM3179 1099h6V1187h-6zM3193 1116h6V1118h-6z"/>
</g>
<line x1="20" x2="3365" y1="803.9" y2="803.9" stroke="#3358cc" stroke-width="1.9" stroke-dasharray="2 4.02"/>
</g>
</svg>
<div id="lg1" class="abs"><span class="k" style="left:0;letter-spacing:0.2px">Alchemy Pay / US Dollar, 4h, COINBASE</span><span class="k" style="left:460px">O</span><span class="k g" style="left:480px">0.018353</span><span class="k" style="left:598.5px">H</span><span class="k g" style="left:617.8px">0.020156</span><span class="k" style="left:736.2px">L</span><span class="k g" style="left:751.2px">0.018242</span><span class="k" style="left:869.7px">C</span><span class="k g" style="left:887.4px">0.019863</span><span class="k" style="left:1010px">Vol</span><span class="k g" style="left:1044px;letter-spacing:1.2px">35.834&#8201;M</span></div>
<div id="lg2" class="abs"><span style="letter-spacing:0.6px">EMA (50, close)</span><span class="bl k" style="left:192.8px;letter-spacing:0.6px">0.019123</span></div>
<div class="pl" style="top:124.5px">0.023000</div><div class="pl" style="top:229.7px">0.022500</div><div class="pl" style="top:334.9px">0.022000</div><div class="pl" style="top:440.1px">0.021500</div><div class="pl" style="top:545.3px">0.021000</div><div class="pl" style="top:650.4px">0.020500</div><div class="pl" style="top:755.6px">0.020000</div><div class="pl" style="top:860.8px">0.019500</div><div class="pl" style="top:966.0px">0.019000</div><div class="pl" style="top:1071.2px">0.018500</div><div class="pl" style="top:1176.4px">0.018000</div><div class="pl" style="top:1281.6px">0.017500</div><div class="pl" style="top:1386.7px">0.017000</div><div class="pl" style="top:1491.9px">0.016500</div><div class="pl" style="top:1597.1px">0.016000</div><div class="pl" style="top:1702.3px">0.015500</div><div class="pl" style="top:1807.5px">0.015000</div>
<div id="taxis"><div class="tl" style="left:5.0px">19</div><div class="tl" style="left:310.5px">26</div><div class="tl b" style="left:572.4px">Sep</div><div class="tl" style="left:921.6px">9</div><div class="tl" style="left:1227.0px">16</div><div class="tl" style="left:1532.4px">23</div><div class="tl b" style="left:1881.7px">Oct</div><div class="tl" style="left:2143.6px">7</div><div class="tl" style="left:2449.0px">14</div><div class="tl" style="left:2754.5px">21</div><div class="tl" style="left:2973.7px">26</div><div class="tl b" style="left:3234.7px">Nov</div></div>
<div id="usd" class="abs"></div><div id="usdt" class="abs">USD</div>
<div class="tag" style="top:719px"><span>0.020158</span></div>
<div class="tag" style="top:1183px"><span>0.017952</span></div>
<div id="tv" class="abs">TradingView</div>
</body></html>
